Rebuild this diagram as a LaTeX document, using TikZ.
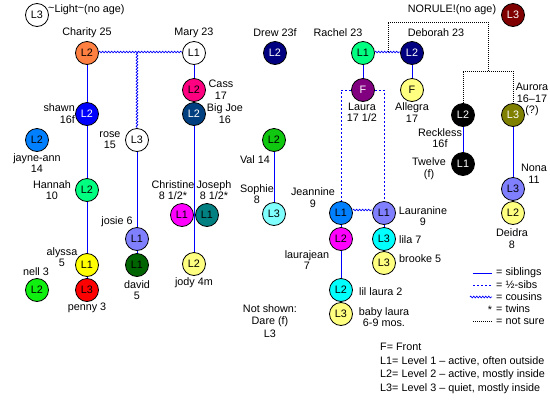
\documentclass[tikz,border=0pt]{standalone}
\usepackage{fontspec}
\setmainfont{Liberation Sans}
\usetikzlibrary{decorations.pathmorphing,backgrounds}
\definecolor{cOrange}{HTML}{FF8040}
\definecolor{cPink}{HTML}{FF0080}
\definecolor{cDkBlue}{HTML}{004080}
\definecolor{cBlue}{HTML}{0000FF}
\definecolor{cSky}{HTML}{0080FF}
\definecolor{cSpring}{HTML}{00FF80}
\definecolor{cMagenta}{HTML}{FF00FF}
\definecolor{cTeal}{HTML}{008080}
\definecolor{cPeri}{HTML}{8080FF}
\definecolor{cDkGreen}{HTML}{006400}
\definecolor{cYellow}{HTML}{FFFF00}
\definecolor{cRed}{HTML}{FF0000}
\definecolor{cGreen}{HTML}{10F010}
\definecolor{cVal}{HTML}{10C810}
\definecolor{cLtYellow}{HTML}{FFFF80}
\definecolor{cNavy}{HTML}{000080}
\definecolor{cPurple}{HTML}{800080}
\definecolor{cLtCyan}{HTML}{80FFFF}
\definecolor{cCyan}{HTML}{00FFFF}
\definecolor{cOlive}{HTML}{808000}
\definecolor{cMaroon}{HTML}{800000}
\begin{document}
\begin{tikzpicture}[x=1pt,y=-1pt,
  pn/.style={circle,draw=black,line width=0.8pt,minimum size=23pt,inner sep=0pt,font=\fontsize{10.8}{12}\selectfont},
  lbl/.style={inner sep=0pt,align=center,font=\fontsize{10.8}{11.6}\selectfont},
  sib/.style={cBlue,line width=1pt},
  half/.style={cBlue,line width=1pt,dash pattern=on 2pt off 2pt},
  cous/.style={cBlue,line width=0.7pt,decorate,decoration={zigzag,segment length=3pt,amplitude=0.8pt}},
  unsure/.style={black,line width=0.8pt,dash pattern=on 1pt off 1pt}]
\useasboundingbox (0,0) rectangle (550,400);

% legend top-left
\node[pn,fill=white] (light) at (37,15) {L3};
\node[lbl,anchor=west] (lightl) at (48,10) {\raisebox{0.8pt}{\textasciitilde}Light\raisebox{0.8pt}{\textasciitilde}(no age)};

% Charity family
\node[pn,fill=cOrange] (charity) at (87,53) {L2};
\node[lbl] (charityl) at (87,33) {Charity 25};
\node[pn,fill=cBlue,text=white] (shawn) at (87,114) {L2};
\node[lbl,anchor=east,align=right] (shawnl) at (75,113.5) {shawn\\16f};
\node[pn,fill=cSky] (jayne) at (37,140) {L2};
\node[lbl] (jaynel) at (37,163) {jayne-ann\\14};
\node[pn,fill=cSpring] (hannah) at (87,190) {L2};
\node[lbl] (hannahl) at (52,190) {Hannah\\10};
\node[pn,fill=cYellow] (alyssa) at (87,265) {L1};
\node[lbl] (alyssal) at (62,257) {alyssa\\5};
\node[pn,fill=cRed] (penny) at (87,290) {L3};
\node[lbl] (pennyl) at (87,308) {penny 3};
\node[pn,fill=cGreen] (nell) at (37,290) {L2};
\node[lbl] (nelll) at (36,272) {nell 3};

% rose family
\node[pn,fill=white] (rose) at (137,140) {L3};
\node[lbl] (rosel) at (110,140) {rose\\15};
\node[pn,fill=cPeri] (josie) at (137,239) {L1};
\node[lbl] (josiel) at (117,222) {josie 6};
\node[pn,fill=cDkGreen] (david) at (137,265) {L1};
\node[lbl] (davidl) at (137,290) {david\\5};

% Mary family
\node[pn,fill=white] (mary) at (194,53) {L1};
\node[lbl] (maryl) at (194,33) {Mary 23};
\node[pn,fill=cPink] (cass) at (194,90) {L2};
\node[lbl] (cassl) at (221,89.5) {Cass\\17};
\node[pn,fill=cDkBlue,text=white] (bigjoe) at (194,114) {L2};
\node[lbl] (bigjoel) at (225,113.5) {Big Joe\\16};
\node[pn,fill=cMagenta] (christine) at (182,215) {L1};
\node[lbl] (christinel) at (173,190) {Christine\\8 1/2*};
\node[pn,fill=cTeal] (joseph) at (207,215) {L1};
\node[lbl] (josephl) at (214,190) {Joseph\\8 1/2*};
\node[pn,fill=cLtYellow] (jody) at (194,264) {L2};
\node[lbl] (jodyl) at (194,283) {jody 4m};

% Drew, Val, Sophie
\node[pn,fill=cNavy,text=white] (drew) at (275,53) {L2};
\node[lbl] (drewl) at (275,33) {Drew 23f};
\node[pn,fill=cVal] (val) at (274,140) {L2};
\node[lbl] (vall) at (255,160) {Val 14};
\node[pn,fill=cLtCyan] (sophie) at (274,214) {L3};
\node[lbl] (sophiel) at (257,194) {Sophie\\8};

% Rachel / Deborah
\node[pn,fill=cSpring] (rachel) at (363,53) {L1};
\node[lbl] (rachell) at (338,33) {Rachel 23};
\node[pn,fill=cNavy,text=white] (deborah) at (412,53) {L2};
\node[lbl] (deborahl) at (436,33) {Deborah 23};
\node[pn,fill=cPurple,text=white] (laura) at (363,90) {F};
\node[lbl] (laural) at (362,112.5) {Laura\\17 1/2};
\node[pn,fill=cLtYellow] (allegra) at (412,90) {F};
\node[lbl] (allegral) at (412,112.5) {Allegra\\17};

\node[pn,fill=cSky] (jeannine) at (341,213) {L1};
\node[lbl] (jeanninel) at (313,197.5) {Jeannine\\9};
\node[pn,fill=cPeri] (lauranine) at (384,213) {L1};
\node[lbl] (lauraninel) at (423,216) {Lauranine\\9};
\node[pn,fill=cMagenta] (laurajean) at (341,239) {L2};
\node[lbl] (laurajeanl) at (307,260) {laurajean\\7};
\node[pn,fill=cCyan] (lila) at (384,239) {L3};
\node[lbl,anchor=west] (lilal) at (399,240) {lila 7};
\node[pn,fill=cLtYellow] (brooke) at (384,263) {L3};
\node[lbl,anchor=west] (brookel) at (399,259) {brooke 5};
\node[pn,fill=cCyan] (lillaura) at (341,290) {L2};
\node[lbl,anchor=west] (lillaural) at (359,292) {lil laura 2};
\node[pn,fill=cLtYellow] (babylaura) at (341,314) {L3};
\node[lbl] (babylaural) at (384,317) {baby laura\\6-9 mos.};

\node[lbl,font=\fontsize{10.8}{12.8}\selectfont] (notshown) at (270,321) {Not shown:\\Dare (f)\\L3};

% NORULE side
\node[pn,fill=cMaroon,text=white] (norule) at (513,15) {L3};
\node[lbl] (norulel) at (452,10) {NORULE!(no age)};
\node[pn,fill=black,text=white] (reckless) at (463,115) {L2};
\node[lbl] (recklessl) at (440,138) {Reckless\\16f};
\node[pn,fill=cOlive,text=white] (aurora) at (513,115) {L3};
\node[lbl] (auroral) at (532,99.5) {Aurora\\16--17\\(?)};
\node[pn,fill=black,text=white] (twelve) at (463,164) {L1};
\node[lbl] (twelvel) at (429,168.5) {Twelve\\(f)};
\node[pn,fill=cPeri] (nona) at (513,189) {L3};
\node[lbl] (nonal) at (534,174) {Nona\\11};
\node[pn,fill=cLtYellow] (deidra) at (513,213) {L2};
\node[lbl] (deidral) at (512,238.5) {Deidra\\8};

% key
\coordinate (k1a) at (473,273); \coordinate (k1b) at (492,273);
\coordinate (k2a) at (473,285); \coordinate (k2b) at (492,285);
\coordinate (k3a) at (470,297); \coordinate (k3b) at (492,297);
\coordinate (k5a) at (473,321); \coordinate (k5b) at (492,321);
\node[lbl,anchor=west] (key1) at (496,273) {= siblings};
\node[lbl,anchor=west] (key2) at (496,285) {= ½-sibs};
\node[lbl,anchor=west] (key3) at (496,297) {= cousins};
\node[lbl] (key4s) at (490,310) {*};
\node[lbl,anchor=west] (key4) at (496,309) {= twins};
\node[lbl,anchor=west] (key5) at (496,321) {= not sure};

\node[lbl,anchor=west] (lev0) at (380,347) {F= Front};
\node[lbl,anchor=west] (lev1) at (380,361) {L1= Level 1 -- active, often outside};
\node[lbl,anchor=west] (lev2) at (380,375) {L2= Level 2 -- active, mostly inside};
\node[lbl,anchor=west] (lev3) at (380,389) {L3= Level 3 -- quiet, mostly inside};

\coordinate (cm) at (137,52);
\coordinate (rd) at (388,52);
\coordinate (ns0) at (488,22);
\coordinate (ns1) at (488,71);

\begin{scope}[on background layer]
\fill[white] (0,0) rectangle (550,400);
% siblings
\draw[sib] (charity) -- (alyssa);
\draw[sib] (alyssa) -- (penny);
\draw[sib] (rose) -- (josie);
\draw[sib] (josie) -- (david);
\draw[sib] (mary) -- (jody);
\draw[sib] (val) -- (sophie);
\draw[sib] (rachel) -- (laura);
\draw[sib] (deborah) -- (allegra);
\draw[sib] (reckless) -- (twelve);
\draw[sib] (aurora) -- (nona);
\draw[sib] (nona) -- (deidra);
\draw[sib] (jeannine) -- (laurajean);
\draw[sib] (laurajean) -- (lillaura);
\draw[sib] (lillaura) -- (babylaura);
\draw[sib] (lauranine) -- (lila);
\draw[sib] (lila) -- (brooke);
% cousins
\draw[cous] (charity.east |- cm) -- (mary.west |- cm);
\draw[cous] (cm) -- (rose.north);
\draw[cous] (rachel.east |- rd) -- (deborah.west |- rd);
\draw[cous] (jeannine.east |- 0,210) -- (lauranine.west |- 0,210);
% half sibs
\draw[half] (laura.west) -| (jeannine.north);
\draw[half] (laura.east) -| (lauranine.north);
% not sure
\draw[unsure] (rd) |- (ns0) -- (ns1);
\draw[unsure] (reckless.north) |- (ns1) -| (aurora.north);
% key lines
\draw[sib] (k1a) -- (k1b);
\draw[half] (k2a) -- (k2b);
\draw[cous] (k3a) -- (k3b);
\draw[unsure] (k5a) -- (k5b);
\end{scope}
\end{tikzpicture}
\end{document}
